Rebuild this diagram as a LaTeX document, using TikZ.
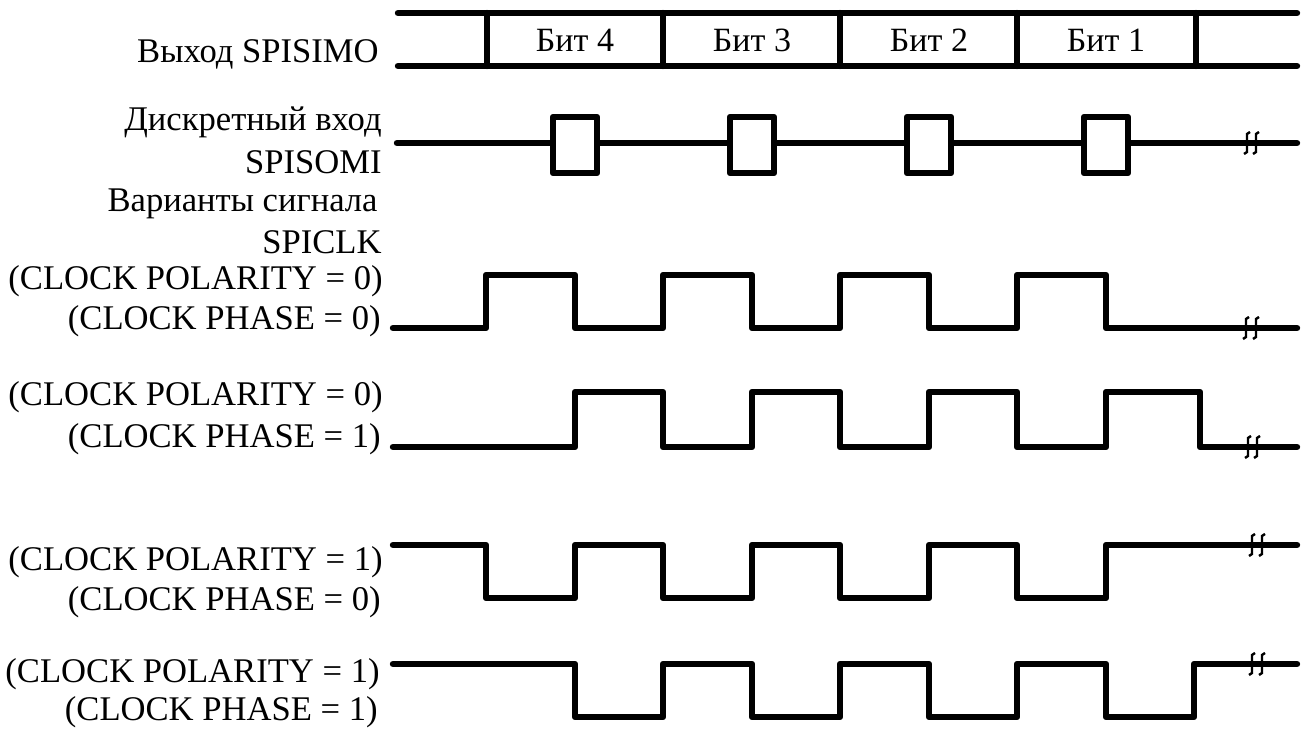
\documentclass[tikz,border=0pt]{standalone}
\usepackage{fontspec}
\setmainfont{Liberation Serif}
\usetikzlibrary{positioning}

\tikzset{
  sig/.style={line width=3.2pt, line join=round, line cap=round},
  lbl/.style={anchor=base east, inner sep=0pt, font=\fontsize{17.3}{20}\selectfont},
  bitlbl/.style={anchor=base, inner sep=0pt, font=\fontsize{17}{20}\selectfont},
  brk/.style={line width=1.2pt},
}
\newcommand{\breakmark}[2]{%
  \draw[brk, shift={(#1,#2)}] (3,-11) -- (0,-9) -- (0,9) -- (-3,11);}

\begin{document}
\begin{tikzpicture}[x=0.5pt, y=-0.5pt]
    \useasboundingbox (0,0) rectangle (1312,733);

    % Labels
    \node[lbl] (mosi) at (379,63) {Выход SPISIMO};
    \node[lbl] (somi1) at (382,131) {Дискретный вход};
    \node[lbl] (somi2) at (382,173) {SPISOMI};
    \node[lbl] (clkA) at (378,211) {Варианты сигнала};
    \node[lbl] (clkB) at (382,253) {SPICLK};
    \node[lbl] (pol0a) at (383,289) {(CLOCK POLARITY = 0)};
    \node[lbl] (ph0a) at (381,329) {(CLOCK PHASE = 0)};
    \node[lbl] (pol0b) at (383,405) {(CLOCK POLARITY = 0)};
    \node[lbl] (ph1b) at (381,447) {(CLOCK PHASE = 1)};
    \node[lbl] (pol1c) at (383,570) {(CLOCK POLARITY = 1)};
    \node[lbl] (ph0c) at (381,610) {(CLOCK PHASE = 0)};
    \node[lbl] (pol1d) at (380,682) {(CLOCK POLARITY = 1)};
    \node[lbl] (ph1d) at (378,720) {(CLOCK PHASE = 1)};

    % SPISIMO bus
    \draw[sig] (398,13) -- (1297,13);
    \draw[sig] (398,66) -- (1297,66);
    \foreach \x in {487,663,840,1017,1196}
        \draw[sig] (\x,13) -- (\x,66);
    \node[bitlbl] (bit4) at (575,52) {Бит 4};
    \node[bitlbl] (bit3) at (752,52) {Бит 3};
    \node[bitlbl] (bit2) at (929,52) {Бит 2};
    \node[bitlbl] (bit1) at (1106,52) {Бит 1};

    % SPISOMI input
    \draw[sig] (397,143) -- (1297,143);
    \foreach \x in {575,752,929,1106}
        \draw[sig, fill=white] (\x-22,117) rectangle (\x+22,173);
    \breakmark{1247}{143} \breakmark{1256}{143}

    % SPICLK, polarity 0, phase 0
    \draw[sig] (393,328) -| (486,275) -| (575,328) -| (663,275) -| (752,328)
        -| (840,275) -| (929,328) -| (1017,275) -| (1106,328) -- (1297,328);
    \breakmark{1246}{328} \breakmark{1256}{328}

    % SPICLK, polarity 0, phase 1
    \draw[sig] (393,447) -| (575,392) -| (663,447) -| (752,392) -| (840,447)
        -| (929,392) -| (1017,447) -| (1106,392) -| (1200,447) -- (1297,447);
    \breakmark{1248}{447} \breakmark{1257}{447}

    % SPICLK, polarity 1, phase 0
    \draw[sig] (393,545) -| (486,598) -| (575,545) -| (663,598) -| (752,545)
        -| (840,598) -| (929,545) -| (1017,598) -| (1106,545) -- (1297,545);
    \breakmark{1252}{545} \breakmark{1262}{545}

    % SPICLK, polarity 1, phase 1
    \draw[sig] (393,664) -| (575,717) -| (663,664) -| (752,717) -| (840,664)
        -| (929,717) -| (1017,664) -| (1106,717) -| (1194,664) -- (1297,664);
    \breakmark{1252}{664} \breakmark{1262}{664}
\end{tikzpicture}
\end{document}
